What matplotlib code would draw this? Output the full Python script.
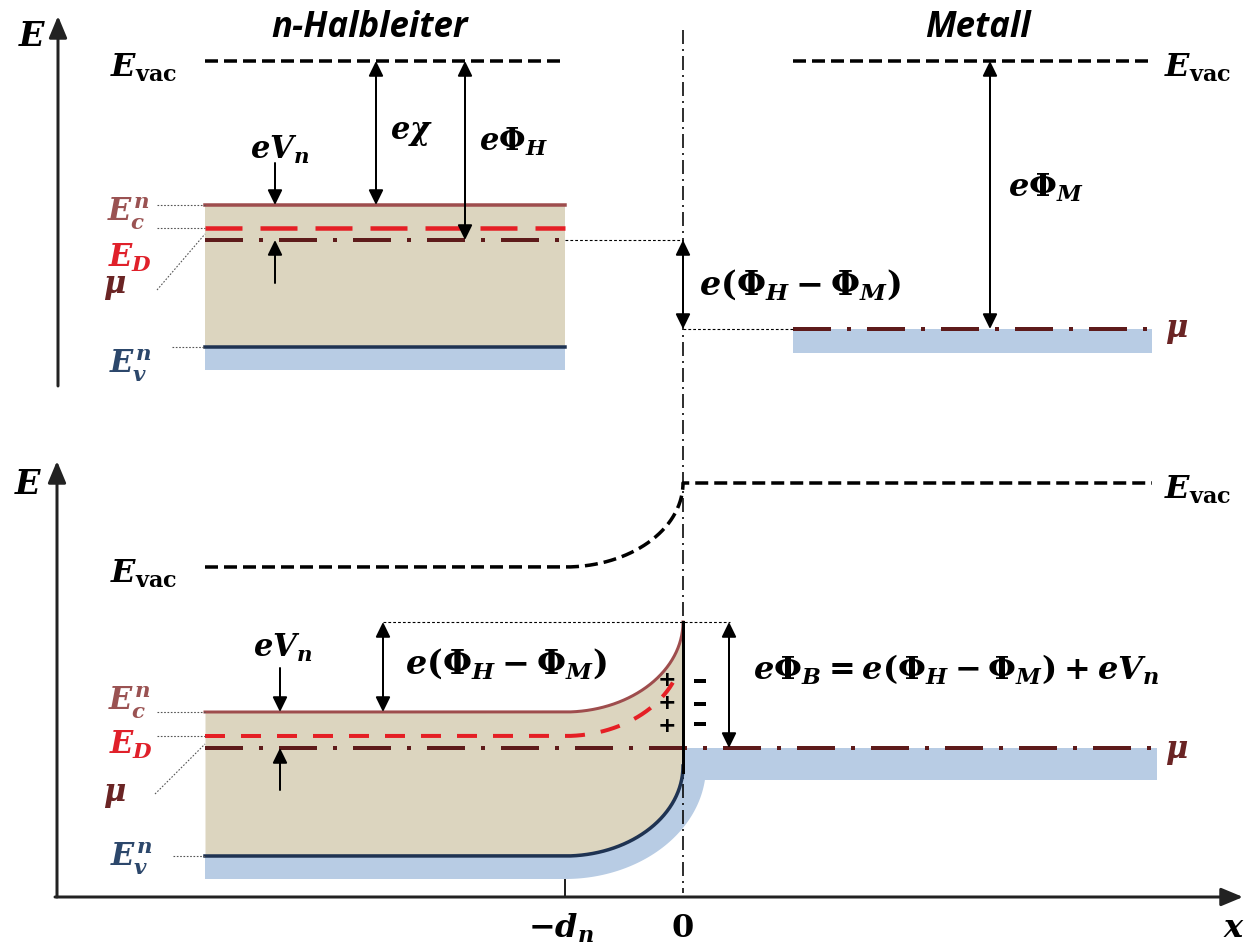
import numpy as np
import matplotlib
matplotlib.use('Agg')
import matplotlib.pyplot as plt

plt.rcParams['mathtext.fontset'] = 'custom'
plt.rcParams['mathtext.it'] = 'DejaVu Serif:italic:bold'
plt.rcParams['mathtext.rm'] = 'DejaVu Serif:bold'
plt.rcParams['mathtext.bf'] = 'DejaVu Serif:bold'
plt.rcParams['lines.scale_dashes'] = False

# ---------------- data (diagram levels, pixel rows/cols of the sketch) ----------------
interface_x = 683
# top diagram: separated n-semiconductor and metal
top_sc_x = [205, 565]
top_metal_x = [793, 1152]
top_Evac = 61
top_Ec = 205
top_ED = 228
top_mu_sc = 240
top_Ev = 347
top_Ev_band = 370
top_mu_m = 329
top_mu_m_band = 353
# bottom diagram: contact
bot_sc_x0 = 205
bend_x0 = 565            # position of -d_n
bot_metal_x1 = 1152
bot_Evac_flat = 567
bot_Evac_bend = 84
bot_Ec_flat = 712
bot_ED_flat = 736
bot_Ev_flat = 856
band_bend = 90
bot_mu = 748
bot_Ev_band_width = 23
bot_metal_band = [748, 780]
bot_ED_end = 673
plus_rows = [680, 703, 726]
minus_rows = [681, 704, 724]

# colours
c_Ec = '#9e4d4d'
c_ED = '#e51f25'
c_mu = '#5e1b1b'
c_Ev = '#1f3352'
c_beige = '#dcd5bf'
c_blue = '#b8cce4'
lc_Ec = '#9a5252'
lc_ED = '#e0202a'
lc_mu = '#6a2424'
lc_Ev = '#2c476b'

W, H = 1245, 946
PX = 0.72  # points per pixel at dpi 100
fig = plt.figure(figsize=(W / 100, H / 100), dpi=100)
ax = fig.add_axes([0, 0, 1, 1])
ax.set_xlim(0, W)
ax.set_ylim(H, 0)
ax.axis('off')

# dash styles (points)
DASH_VAC = (0, (13 * PX, 6 * PX))
DASH_ED_TOP = (0, (37 * PX, 18 * PX))
DASH_ED_BOT = (0, (20 * PX, 16 * PX))
DASH_MU = (0, (38 * PX, 16 * PX, 4 * PX, 16 * PX))
DASH_VLINE = (0, (14 * PX, 5 * PX, 2 * PX, 5 * PX))

MS = 22   # math label size
TITLE = dict(family='Open Sans', style='italic', weight='bold', size=25)


def band_curve(y_flat, drop, x_start=bot_sc_x0, x0=bend_x0, x1=interface_x, n=200):
    """flat level followed by a quarter-ellipse bending up to the interface"""
    a = x1 - x0
    t = np.linspace(0, np.pi / 2, n)
    xs = np.concatenate([[x_start], x0 + a * np.sin(t)])
    ys = np.concatenate([[y_flat], y_flat - drop * (1 - np.cos(t))])
    return xs, ys


def arrow(x0, y0, x1, y1, both=False, lw=2.0):
    style = '<|-|>' if both else '-|>'
    ax.annotate('', xy=(x1, y1), xytext=(x0, y0),
                arrowprops=dict(arrowstyle=style + ',head_length=0.45,head_width=0.22',
                                mutation_scale=20, lw=lw * PX, color='black',
                                shrinkA=0, shrinkB=0))


def axis_arrow(x0, y0, x1, y1):
    ax.annotate('', xy=(x1, y1), xytext=(x0, y0),
                arrowprops=dict(arrowstyle='-|>,head_length=0.6,head_width=0.25',
                                mutation_scale=22, lw=3 * PX, color='#222222',
                                shrinkA=0, shrinkB=0))


def leader(x0, y0, x1, y1):
    ax.plot([x0, x1], [y0, y1], color='#555555', lw=1.1 * PX, ls=(0, (1.2, 1.2)))


def T(x, y, s, size=MS, color='black', **kw):
    ax.text(x, y, s, fontsize=size, color=color, ha=kw.pop('ha', 'center'),
            va=kw.pop('va', 'center'), **kw)


# ======================= TOP DIAGRAM =======================
axis_arrow(58, 386, 58, 16)
T(32, 36, r'$E$', size=24)
ax.text(370, 28, 'n-Halbleiter', ha='center', va='center', **TITLE)
ax.text(978, 28, 'Metall', ha='center', va='center', **TITLE)

# semiconductor fills
ax.fill_between(top_sc_x, top_Ec, top_Ev, color=c_beige, lw=0)
ax.fill_between(top_sc_x, top_Ev, top_Ev_band, color=c_blue, lw=0)
ax.fill_between(top_metal_x, top_mu_m, top_mu_m_band, color=c_blue, lw=0)

ax.plot(top_sc_x, [top_Evac] * 2, color='black', lw=3.5 * PX, ls=DASH_VAC)
ax.plot(top_metal_x, [top_Evac] * 2, color='black', lw=3.5 * PX, ls=DASH_VAC)
ax.plot(top_sc_x, [top_Ec] * 2, color=c_Ec, lw=3.5 * PX)
ax.plot(top_sc_x, [top_ED] * 2, color=c_ED, lw=4.5 * PX, ls=DASH_ED_TOP)
ax.plot(top_sc_x, [top_mu_sc] * 2, color=c_mu, lw=4 * PX, ls=DASH_MU)
ax.plot(top_sc_x, [top_Ev] * 2, color=c_Ev, lw=3.5 * PX)
ax.plot(top_metal_x, [top_mu_m] * 2, color=c_mu, lw=4 * PX, ls=DASH_MU)

# interface line
ax.plot([interface_x, interface_x], [30, 893], color='black', lw=1.6 * PX, ls=DASH_VLINE)

# dotted helper lines
ax.plot([top_sc_x[1], interface_x], [top_mu_sc] * 2, color='black', lw=1.1 * PX, ls=(0, (2, 1.5)))
ax.plot([interface_x, top_metal_x[0]], [top_mu_m] * 2, color='black', lw=1.1 * PX, ls=(0, (2, 1.5)))

# labels with leaders
T(144, 68, r'$E_{\mathrm{vac}}$', size=23)
T(1198, 68, r'$E_{\mathrm{vac}}$', size=23)
T(128, 214, r'$E_c^n$', size=22, color=lc_Ec)
T(130, 258, r'$E_D$', size=22, color=lc_ED)
T(115, 287, r'$\mu$', size=22, color=lc_mu)
T(130, 366, r'$E_v^n$', size=22, color=lc_Ev)
leader(157, top_Ec, top_sc_x[0], top_Ec)
leader(157, top_ED, top_sc_x[0], top_ED)
leader(157, 290, top_sc_x[0], top_mu_sc - 6)
leader(172, top_Ev, top_sc_x[0], top_Ev)
T(1177, 331, r'$\mu$', size=22, color=lc_mu)

# arrows
arrow(275, 163, 275, top_Ec)
arrow(275, 283, 275, top_mu_sc)
T(280, 150, r'$eV_n$')
arrow(376, top_Evac, 376, top_Ec, both=True)
T(411, 133, r'$e\chi$')
arrow(465, top_Evac, 465, top_mu_sc, both=True)
T(514, 142, r'$e\Phi_H$')
arrow(interface_x, top_mu_sc, interface_x, top_mu_m, both=True)
T(800, 285, r'$e(\Phi_H - \Phi_M)$', size=24)
arrow(990, top_Evac, 990, top_mu_m, both=True)
T(1046, 188, r'$e\Phi_M$', size=23)

# ======================= BOTTOM DIAGRAM =======================
axis_arrow(57, 897, 57, 461)
axis_arrow(55, 897, 1243, 897)
T(28, 484, r'$E$', size=24)
T(1234, 928, r'$x$', size=23)
ax.plot([bend_x0, bend_x0], [880, 897], color='#222222', lw=2 * PX)
T(561, 928, r'$-d_n$', size=23)
T(682, 928, r'$\mathrm{0}$', size=23)

xEc, yEc = band_curve(bot_Ec_flat, band_bend)
xEv, yEv = band_curve(bot_Ev_flat, band_bend)
xEvac, yEvac = band_curve(bot_Evac_flat, bot_Evac_bend)
xED, yED = band_curve(bot_ED_flat, band_bend)
keep = xED <= bot_ED_end
xED, yED = xED[keep], yED[keep]

# beige fill between Ec and Ev
ax.fill_between(xEc, yEc, yEv, color=c_beige, lw=0)

# blue band below Ev + metal band
b_out = band_bend + bot_Ev_band_width
a_out = (interface_x - bend_x0) + bot_Ev_band_width
cy = bot_Ev_flat - band_bend
tmax = np.arccos((bot_metal_band[1] - cy) / b_out)
t = np.linspace(0, tmax, 200)
xo = bend_x0 + a_out * np.sin(t)
yo = cy + b_out * np.cos(t)
poly_x = np.concatenate([xEv, [interface_x, 1157, 1157], xo[::-1], [bot_sc_x0]])
poly_y = np.concatenate([yEv, [bot_metal_band[0], bot_metal_band[0], bot_metal_band[1]],
                         yo[::-1], [yo[0]]])
ax.fill(poly_x, poly_y, color=c_blue, lw=0)

# lines
ax.plot(np.append(xEvac, bot_metal_x1), np.append(yEvac, yEvac[-1]),
        color='black', lw=3.5 * PX, ls=DASH_VAC)
ax.plot(xEc, yEc, color=c_Ec, lw=3 * PX)
ax.plot(xED, yED, color=c_ED, lw=4 * PX, ls=DASH_ED_BOT)
ax.plot([bot_sc_x0, bot_metal_x1], [bot_mu] * 2, color=c_mu, lw=4 * PX, ls=DASH_MU)
ax.plot(xEv, yEv, color=c_Ev, lw=3.5 * PX)
ax.plot([interface_x, interface_x], [yEc[-1], 772], color='black', lw=3 * PX)

# helper dotted line at barrier top
ax.plot([383, 730], [yEc[-1]] * 2, color='black', lw=1.1 * PX, ls=(0, (2, 1.5)))

# labels
T(144, 574, r'$E_{\mathrm{vac}}$', size=23)
T(1198, 490, r'$E_{\mathrm{vac}}$', size=23)
T(129, 703, r'$E_c^n$', size=22, color=lc_Ec)
T(131, 745, r'$E_D$', size=22, color=lc_ED)
T(115, 795, r'$\mu$', size=22, color=lc_mu)
T(131, 859, r'$E_v^n$', size=22, color=lc_Ev)
leader(157, bot_Ec_flat, bot_sc_x0, bot_Ec_flat)
leader(157, bot_ED_flat, bot_sc_x0, bot_ED_flat)
leader(155, 794, bot_sc_x0, bot_mu - 4)
leader(173, bot_Ev_flat, bot_sc_x0, bot_Ev_flat)
T(1177, 752, r'$\mu$', size=22, color=lc_mu)

arrow(280, 668, 280, bot_Ec_flat)
arrow(280, 790, 280, bot_mu)
T(283, 648, r'$eV_n$')
arrow(383, yEc[-1], 383, bot_Ec_flat, both=True)
T(506, 664, r'$e(\Phi_H - \Phi_M)$', size=24)
arrow(729, yEc[-1], 729, bot_mu, both=True)
T(956, 670, r'$e\Phi_B = e(\Phi_H - \Phi_M) + eV_n$', size=23)

for yp in plus_rows:
    T(667, yp, '+', size=16, weight='bold', family='DejaVu Sans')
for ym in minus_rows:
    ax.plot([694, 706], [ym, ym], color='black', lw=4 * PX, solid_capstyle='butt')

fig.savefig('out.png', dpi=100)
